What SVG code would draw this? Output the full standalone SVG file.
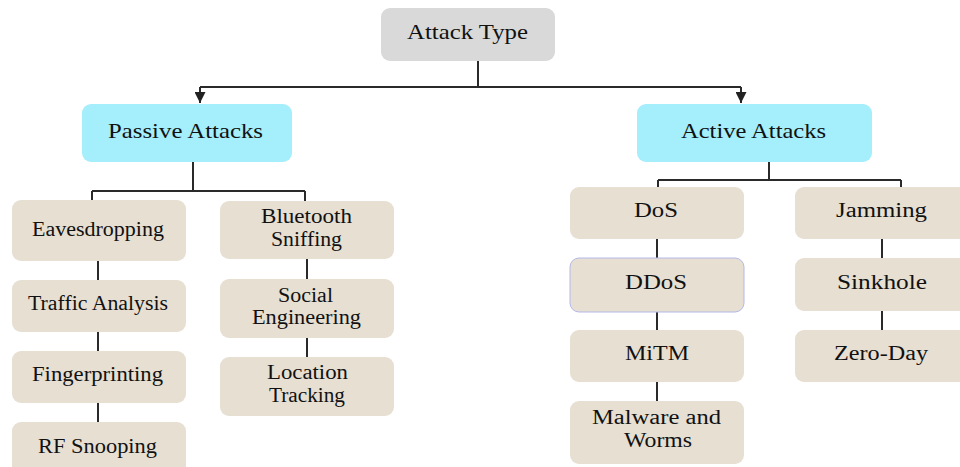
<svg xmlns="http://www.w3.org/2000/svg" width="960" height="467" viewBox="0 0 960 467">
<defs>
<style>
.root{fill:#d9d9d9}
.cat{fill:#a5eefb}
.leaf{fill:#e6dfd2}
text{font-family:"Liberation Serif","Times New Roman",serif;fill:#111;text-anchor:start}
.t1{font-size:21px}
.t2{font-size:20px}
.conn{stroke:#2a2a2a;stroke-width:2;fill:none}
</style>
<marker id="arr" viewBox="0 0 10 10" refX="10" refY="5" markerWidth="11" markerHeight="11" orient="auto" markerUnits="userSpaceOnUse">
<path d="M0,0 L10,5 L0,10 z" fill="#222"/>
</marker>
</defs>
<rect width="960" height="467" fill="#ffffff"/>
<g id="connectors">
<path class="conn" d="M478,61 V87 M200,87 H741"/>
<path class="conn" d="M200,87 V103" marker-end="url(#arr)"/>
<path class="conn" d="M741,87 V103" marker-end="url(#arr)"/>
<path class="conn" d="M193,162 V191 M92,191 H305 M92,191 V200 M305,191 V201"/>
<path class="conn" d="M98,261 V280 M98,332 V351 M98,403 V422"/>
<path class="conn" d="M307,259 V279 M307,338 V357"/>
<path class="conn" d="M769,162 V180 M658,180 H901 M658,180 V187 M901,180 V187"/>
<path class="conn" d="M657,239 V258 M657,312 V330 M657,382 V401"/>
<path class="conn" d="M882,239 V258 M882,311 V330"/>
</g>
<g id="attack-type"><rect class="root" x="381" y="8" width="174" height="53" rx="9"/><text class="t1" x="407" y="39" textLength="121" lengthAdjust="spacingAndGlyphs">Attack Type</text></g>
<g id="passive"><rect class="cat" x="82" y="104" width="210" height="58" rx="9"/><text class="t1" x="108" y="138" textLength="155" lengthAdjust="spacingAndGlyphs">Passive Attacks</text></g>
<g id="active"><rect class="cat" x="637" y="104" width="235" height="58" rx="9"/><text class="t1" x="681" y="138" textLength="145" lengthAdjust="spacingAndGlyphs">Active Attacks</text></g>
<g id="eavesdropping"><rect class="leaf" x="12" y="200" width="174" height="61" rx="9"/><text class="t2" x="32" y="236" textLength="132" lengthAdjust="spacingAndGlyphs">Eavesdropping</text></g>
<g id="traffic"><rect class="leaf" x="12" y="280" width="174" height="52" rx="9"/><text class="t2" x="28" y="310" textLength="140" lengthAdjust="spacingAndGlyphs">Traffic Analysis</text></g>
<g id="fingerprinting"><rect class="leaf" x="12" y="351" width="174" height="52" rx="9"/><text class="t2" x="32" y="381" textLength="131" lengthAdjust="spacingAndGlyphs">Fingerprinting</text></g>
<g id="rf"><rect class="leaf" x="12" y="422" width="174" height="56" rx="9"/><text class="t2" x="38" y="453" textLength="119" lengthAdjust="spacingAndGlyphs">RF Snooping</text></g>
<g id="bluetooth"><rect class="leaf" x="220" y="201" width="174" height="58" rx="9"/><text class="t2" x="261" y="223" textLength="91" lengthAdjust="spacingAndGlyphs">Bluetooth</text><text class="t2" x="271" y="246" textLength="71" lengthAdjust="spacingAndGlyphs">Sniffing</text></g>
<g id="social"><rect class="leaf" x="220" y="279" width="174" height="59" rx="9"/><text class="t2" x="278" y="302" textLength="55" lengthAdjust="spacingAndGlyphs">Social</text><text class="t2" x="252" y="324" textLength="109" lengthAdjust="spacingAndGlyphs">Engineering</text></g>
<g id="location"><rect class="leaf" x="220" y="357" width="174" height="59" rx="9"/><text class="t2" x="267" y="379" textLength="81" lengthAdjust="spacingAndGlyphs">Location</text><text class="t2" x="269" y="402" textLength="76" lengthAdjust="spacingAndGlyphs">Tracking</text></g>
<g id="dos"><rect class="leaf" x="570" y="187" width="174" height="52" rx="9"/><text class="t2" x="634" y="217" textLength="44" lengthAdjust="spacingAndGlyphs">DoS</text></g>
<g id="ddos"><rect class="leaf" x="570" y="258" width="174" height="54" rx="9" stroke="#b4b8e8" stroke-width="1"/><text class="t2" x="625" y="289" textLength="62" lengthAdjust="spacingAndGlyphs">DDoS</text></g>
<g id="mitm"><rect class="leaf" x="570" y="330" width="174" height="52" rx="9"/><text class="t2" x="625" y="360" textLength="64" lengthAdjust="spacingAndGlyphs">MiTM</text></g>
<g id="malware"><rect class="leaf" x="570" y="401" width="174" height="63" rx="9"/><text class="t2" x="592" y="424" textLength="129" lengthAdjust="spacingAndGlyphs">Malware and</text><text class="t2" x="624" y="447" textLength="68" lengthAdjust="spacingAndGlyphs">Worms</text></g>
<g id="jamming"><rect class="leaf" x="795" y="187" width="174" height="52" rx="9"/><text class="t2" x="836" y="217" textLength="91" lengthAdjust="spacingAndGlyphs">Jamming</text></g>
<g id="sinkhole"><rect class="leaf" x="795" y="258" width="174" height="53" rx="9"/><text class="t2" x="837" y="289" textLength="90" lengthAdjust="spacingAndGlyphs">Sinkhole</text></g>
<g id="zeroday"><rect class="leaf" x="795" y="330" width="174" height="52" rx="9"/><text class="t2" x="834" y="360" textLength="94" lengthAdjust="spacingAndGlyphs">Zero-Day</text></g>
</svg>
